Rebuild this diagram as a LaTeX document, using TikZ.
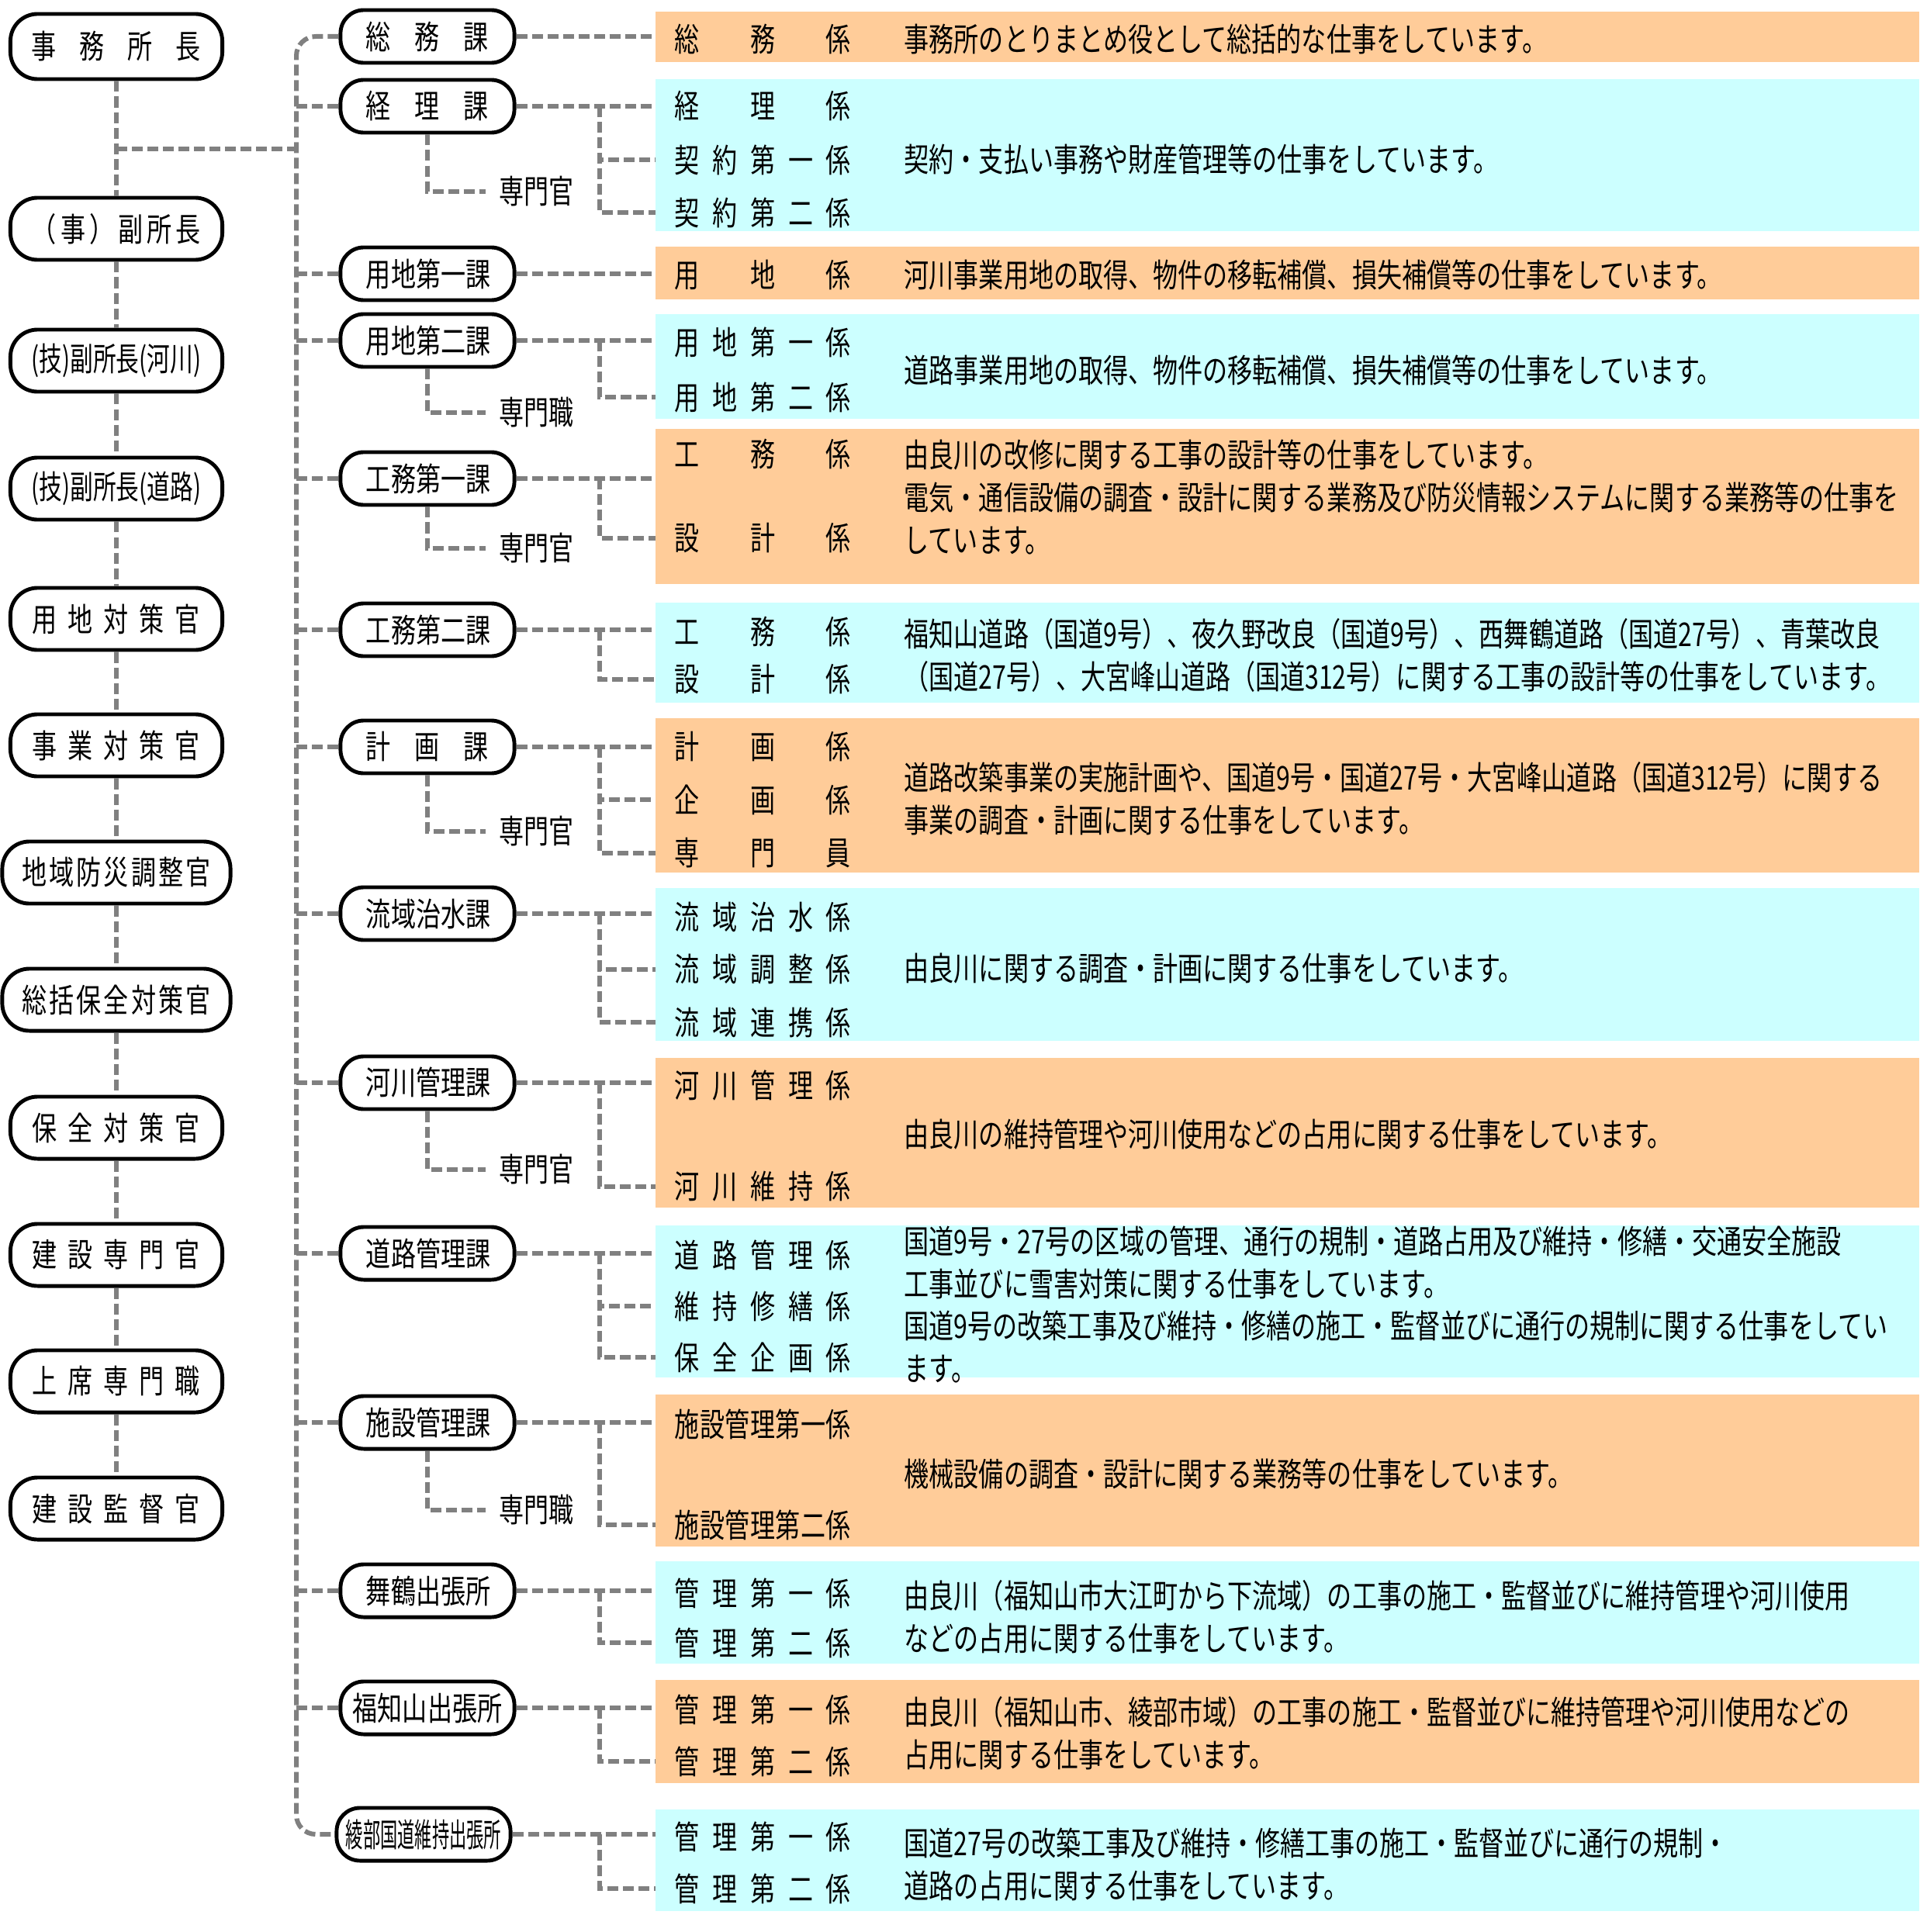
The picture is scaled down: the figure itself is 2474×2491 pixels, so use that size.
\documentclass[tikz,border=0pt]{standalone}
\usepackage{fontspec}
\setmainfont{Noto Sans CJK JP}[FakeStretch=0.76]
\usepackage{graphicx}
\usetikzlibrary{calc}

\definecolor{bandor}{HTML}{FFCC99}
\definecolor{bandcy}{HTML}{CCFFFF}
\definecolor{linkgray}{HTML}{808080}

% spread the characters of #2 evenly over width #1
\makeatletter
\def\sprdA#1#2{#1\ifx\relax#2\expandafter\@gobble\else\hfil\expandafter\sprdA\fi#2}
\makeatother
\newcommand\sprd[2]{\edef\sprdtmp{#2}\makebox[#1][s]{\expandafter\sprdA\sprdtmp\relax}}
\newcommand\fitw[2]{\resizebox{#1}{\height}{#2}}

\begin{document}
\begin{tikzpicture}[x=0.01cm, y=-0.01cm,
  font=\fontsize{12pt}{15.6pt}\selectfont,
  postbox/.style={draw=black, line width=1.4pt, fill=white,
                  rounded corners=0.35cm, minimum width=2.73cm,
                  minimum height=0.8cm, inner sep=0pt},
  sectbox/.style={postbox, rounded corners=0.3cm, minimum width=2.24cm,
                  minimum height=0.68cm},
  kakari/.style={anchor=west, inner xsep=0.24cm, inner ysep=0pt},
  desc/.style={anchor=west, align=left, inner sep=0pt},
  subl/.style={anchor=west, inner xsep=0.17cm, inner ysep=0pt},
  link/.style={draw=linkgray, line width=0.06cm,
               dash pattern=on 0.14cm off 0.06cm}]
  \useasboundingbox (0,0) rectangle (2474,2491);
  \fill[white] (0,0) rectangle (2474,2491);

  % Colour bands of the sections
  \foreach \c/\ya/\yb in {bandor/15/80, bandcy/102/298, bandor/318/386,
      bandcy/405/540, bandor/553/753, bandcy/777/906, bandor/926/1125,
      bandcy/1145/1342, bandor/1364/1557, bandcy/1580/1776,
      bandor/1798/1994, bandcy/2013/2145, bandor/2166/2299,
      bandcy/2333/2464}
    \fill[\c] (845,\ya) rectangle (2474,\yb);

  % Left column: office heads
  \node[postbox, minimum height=0.84cm] (chief) at (150,60) {\sprd{2.18cm}{事務所長}};
  \node[postbox] (techR) at (150,465) {\fitw{2.18cm}{(技)副所長(河川)}};
  \node[postbox] (techD) at (150,630) {\fitw{2.18cm}{(技)副所長(道路)}};
  \foreach \n/\y/\bw/\w/\lbl in {vice/295/2.73cm/2.18cm/（事）副所長,
      yochiT/798/2.73cm/2.16cm/用地対策官, jigyo/961/2.73cm/2.16cm/事業対策官,
      bousai/1125/2.94cm/2.43cm/地域防災調整官,
      hozenS/1289/2.94cm/2.43cm/総括保全対策官,
      hozen/1454/2.73cm/2.16cm/保全対策官, kensetsu/1618/2.73cm/2.16cm/建設専門官,
      joseki/1781/2.73cm/2.16cm/上席専門職, kantoku/1945/2.73cm/2.16cm/建設監督官}
    \node[postbox, minimum width=\bw] (\n) at (150,\y) {\sprd{\w}{\lbl}};

  % Middle column: divisions and offices
  \foreach \n/\y/\lbl in {somu/47/総務課, keiri/137/経理課, yochiA/353/用地第一課,
      yochiB/439/用地第二課, komuA/617/工務第一課, komuB/812/工務第二課,
      keikaku/963/計画課, ryuiki/1178/流域治水課, kasen/1396/河川管理課,
      doro/1616/道路管理課, shisetsu/1834/施設管理課, maizuru/2051/舞鶴出張所}
    \node[sectbox] (\n) at (551,\y) {\sprd{1.58cm}{\lbl}};
  \node[sectbox] (fukuchi) at (551,2202) {福知山出張所};
  \node[sectbox] (ayabe) at (546,2365) {\fitw{2.0cm}{綾部国道維持出張所}};

  % Sections (kakari)
  \foreach \n/\y/\lbl in {k1/50/総務係, k2/137/経理係, k3/206/契約第一係,
      k4/274/契約第二係, k5/355/用地係, k6/441/用地第一係, k7/512/用地第二係,
      k8/585/工務係, k9/694/設計係, k10/814/工務係, k11/876/設計係,
      k12/963/計画係, k13/1031/企画係, k14/1100/専門員, k15/1182/流域治水係,
      k16/1250/流域調整係, k17/1318/流域連携係, k18/1400/河川管理係,
      k19/1530/河川維持係, k20/1618/道路管理係, k21/1684/維持修繕係,
      k22/1750/保全企画係, k23/1836/施設管理第一係, k24/1966/施設管理第二係,
      k25/2054/管理第一係, k26/2118/管理第二係, k27/2204/管理第一係,
      k28/2271/管理第二係, k29/2368/管理第一係, k30/2435/管理第二係}
    \node[kakari] (\n) at (845,\y) {\sprd{2.27cm}{\lbl}};

  % Duties
  \node[desc] (d1) at (1165,50) {事務所のとりまとめ役として総括的な仕事をしています。};
  \node[desc] (d2) at (1165,205) {契約・支払い事務や財産管理等の仕事をしています。};
  \node[desc] (d3) at (1165,355) {河川事業用地の取得、物件の移転補償、損失補償等の仕事をしています。};
  \node[desc] (d4) at (1165,477) {道路事業用地の取得、物件の移転補償、損失補償等の仕事をしています。};
  \node[desc] (d5) at (1165,641) {由良川の改修に関する工事の設計等の仕事をしています。\\
    電気・通信設備の調査・設計に関する業務及び防災情報システムに関する業務等の仕事を\\
    しています。};
  \node[desc] (d6) at (1165,845) {福知山道路（国道9号）、夜久野改良（国道9号）、西舞鶴道路（国道27号）、青葉改良\\
    （国道27号）、大宮峰山道路（国道312号）に関する工事の設計等の仕事をしています。};
  \node[desc] (d7) at (1165,1030) {道路改築事業の実施計画や、国道9号・国道27号・大宮峰山道路（国道312号）に関する\\
    事業の調査・計画に関する仕事をしています。};
  \node[desc] (d8) at (1165,1249) {由良川に関する調査・計画に関する仕事をしています。};
  \node[desc] (d9) at (1165,1463) {由良川の維持管理や河川使用などの占用に関する仕事をしています。};
  \node[desc] (d10) at (1165,1682) {国道9号・27号の区域の管理、通行の規制・道路占用及び維持・修繕・交通安全施設\\
    工事並びに雪害対策に関する仕事をしています。\\
    国道9号の改築工事及び維持・修繕の施工・監督並びに通行の規制に関する仕事をしてい\\
    ます。};
  \node[desc] (d11) at (1165,1900) {機械設備の調査・設計に関する業務等の仕事をしています。};
  \node[desc] (d12) at (1165,2085) {由良川（福知山市大江町から下流域）の工事の施工・監督並びに維持管理や河川使用\\
    などの占用に関する仕事をしています。};
  \node[desc] (d13) at (1165,2235) {由良川（福知山市、綾部市域）の工事の施工・監督並びに維持管理や河川使用などの\\
    占用に関する仕事をしています。};
  \node[desc] (d14) at (1165,2404) {国道27号の改築工事及び維持・修繕工事の施工・監督並びに通行の規制・\\
    道路の占用に関する仕事をしています。};

  % Left spine
  \foreach \p/\q in {chief/vice, vice/techR, techR/techD, techD/yochiT,
      yochiT/jigyo, jigyo/bousai, bousai/hozenS, hozenS/hozen,
      hozen/kensetsu, kensetsu/joseki, joseki/kantoku}
    \draw[link] (\p.south) -- (\q.north);
  \coordinate (hub) at (382,192);
  \draw[link] (chief.south |- hub) -- (hub);

  % Middle spine
  \draw[link, rounded corners=0.25cm] (somu.west) -| (hub) |- (ayabe.west);
  \foreach \n in {keiri, yochiA, yochiB, komuA, komuB, keikaku, ryuiki,
      kasen, doro, shisetsu, maizuru, fukuchi}
    \draw[link] (hub |- \n.west) -- (\n.west);

  % Specialists under a division
  \foreach \n/\bx/\y/\lbl in {s1/keiri/247/専門官, s2/yochiB/532/専門職,
      s3/komuA/707/専門官, s4/keikaku/1072/専門官, s5/kasen/1508/専門官,
      s6/shisetsu/1947/専門職} {
    \node[subl] (\n) at (626,\y) {\lbl};
    \draw[link] (\bx.south) |- (\n.west);
  }

  % Divisions to their sections
  \coordinate (br) at (773,0);
  \foreach \bx/\kx in {somu/k1, keiri/k2, yochiA/k5, yochiB/k6, komuA/k8,
      komuB/k10, keikaku/k12, ryuiki/k15, kasen/k18, doro/k20,
      shisetsu/k23, maizuru/k25, fukuchi/k27, ayabe/k29}
    \draw[link] (\bx.east) -- (\bx.east -| \kx.west);
  \foreach \bx/\kx in {keiri/k3, keiri/k4, yochiB/k7, komuA/k9, komuB/k11,
      keikaku/k13, keikaku/k14, ryuiki/k16, ryuiki/k17, kasen/k19,
      doro/k21, doro/k22, shisetsu/k24, maizuru/k26, fukuchi/k28, ayabe/k30}
    \draw[link] (\bx.east -| br) |- (\kx.west);
\end{tikzpicture}
\end{document}
